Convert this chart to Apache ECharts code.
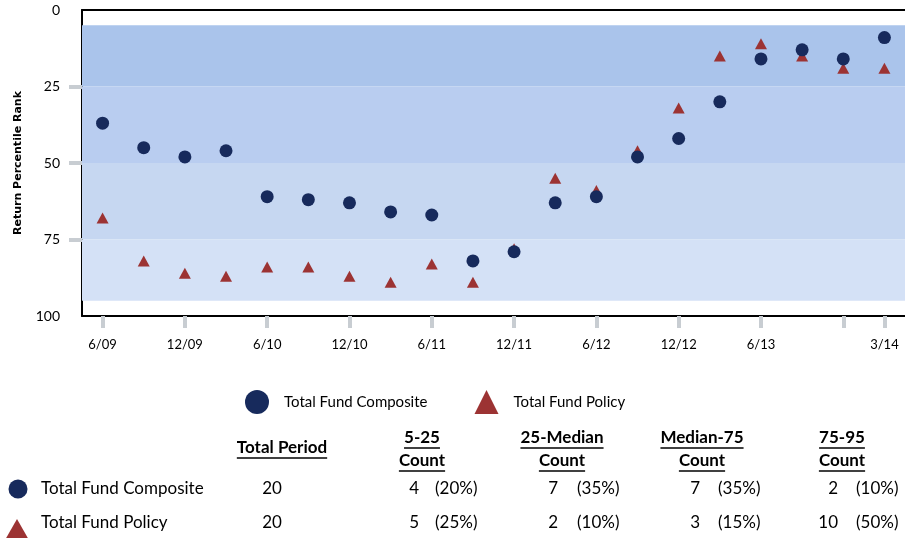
<!DOCTYPE html>
<html><head><meta charset="utf-8">
<script src="https://cdn.jsdelivr.net/npm/echarts@6/dist/echarts.min.js"></script>
<style>html,body{margin:0;padding:0;background:#fff}#c{width:905px;height:538px}</style>
</head><body><div id="c"></div>
<script>
const categories = ['6/09','9/09','12/09','3/10','6/10','9/10','12/10','3/11','6/11','9/11','12/11','3/12','6/12','9/12','12/12','3/13','6/13','9/13','12/13','3/14'];
const seriesNames = ['Total Fund Composite','Total Fund Policy'];
const compositeRank = [37,45,48,46,61,62,63,66,67,82,79,63,61,48,42,30,16,13,16,9];
const policyRank = [68,82,86,87,84,84,87,89,83,89,78,55,59,46,32,15,11,15,19,19];
const yTickValues = [25,50,75];
const bandEdges = [5,25,50,75,95];
const bandColors = ['#aac4eb','#b9cdf0','#c6d7f1','#d4e1f6'];
const tableHeaders = [['Total Period'],['5-25','Count'],['25-Median','Count'],['Median-75','Count'],['75-95','Count']];
const totalPeriod = [20,20];
const compositeCounts = [4,7,7,2];
const compositePct = ['(20%)','(35%)','(35%)','(10%)'];
const policyCounts = [5,2,3,10];
const policyPct = ['(25%)','(10%)','(15%)','(50%)'];

const FONT = 'Lato, "Open Sans", sans-serif';
const navy = '#172a5c';
const red = '#9c3333';

const chart = echarts.init(document.getElementById('c'), null, {renderer:'canvas'});

const mctx = document.createElement('canvas').getContext('2d');
function textW(t, font){ mctx.font = font; return mctx.measureText(t).width; }

const graphics = [];
const headerCenters = [282, 422, 562, 702, 842];
const hFont = 'bold 17px ' + FONT;
tableHeaders.forEach((lines, i) => {
  const ys = lines.length === 1 ? [448] : [438, 461];
  lines.forEach((t, j) => {
    graphics.push({type:'text', x: headerCenters[i], y: ys[j], style:{text:t, font:hFont, fill:'#000', align:'center', verticalAlign:'middle'}});
    const w = textW(t, hFont);
    graphics.push({type:'line', shape:{x1: headerCenters[i]-w/2, y1: ys[j]+10, x2: headerCenters[i]+w/2, y2: ys[j]+10}, style:{stroke:'#000', lineWidth:1.3}});
  });
});
const rowY = [489, 523];
const rowFont = '17px ' + FONT;
const numRight = [419, 558, 700, 838];
const pctLeft = [435, 577, 718, 856];
const rows = [[compositeCounts, compositePct],[policyCounts, policyPct]];
rows.forEach((r, i) => {
  graphics.push({type:'text', x:41, y:rowY[i], style:{text:seriesNames[i], font:rowFont, fill:'#000', align:'left', verticalAlign:'middle'}});
  graphics.push({type:'text', x:272, y:rowY[i], style:{text:String(totalPeriod[i]), font:rowFont, fill:'#000', align:'center', verticalAlign:'middle'}});
  r[0].forEach((c, k) => {
    graphics.push({type:'text', x:numRight[k], y:rowY[i], style:{text:String(c), font:rowFont, fill:'#000', align:'right', verticalAlign:'middle'}});
    graphics.push({type:'text', x:pctLeft[k], y:rowY[i], style:{text:r[1][k], font:rowFont, fill:'#000', align:'left', verticalAlign:'middle'}});
  });
});
graphics.push({type:'circle', shape:{cx:18, cy:489, r:9.5}, style:{fill:navy}});
graphics.push({type:'polygon', shape:{points:[[17,519],[29,540],[5,540]]}, style:{fill:red}});

const frameLine = {show:true, onZero:false, lineStyle:{color:'#000', width:2}};

chart.setOption({
  animation:false,
  textStyle:{fontFamily:FONT},
  grid:{left:82, right:-1, top:10, bottom:222, containLabel:false},
  legend:{
    data:[{name:seriesNames[0], icon:'circle'},{name:seriesNames[1], icon:'triangle'}],
    left:240, top:385, itemWidth:24, itemHeight:24, itemGap:47,
    textStyle:{fontSize:15, color:'#000', fontFamily:FONT, padding:[0,0,0,10]}
  },
  xAxis:[{
    type:'category', data:categories, boundaryGap:true, position:'bottom',
    axisLine:frameLine,
    axisTick:{show:true, alignWithLabel:true, length:12, interval:(i)=> i%2===0 || i===19, lineStyle:{color:'#c8cdd2', width:4}},
    axisLabel:{interval:(i)=> (i%2===0 && i!==18) || i===19, margin:22, fontSize:13, color:'#000', fontFamily:FONT},
    splitLine:{show:false}
  },{
    type:'category', data:categories, boundaryGap:true, position:'top',
    axisLine:frameLine, axisTick:{show:false}, axisLabel:{show:false}, splitLine:{show:false}
  }],
  yAxis:{
    type:'value', inverse:true, min:0, max:100, interval:25,
    name:'Return Percentile Rank', nameLocation:'middle', nameGap:58, nameRotate:90,
    nameTextStyle:{fontSize:11, fontWeight:'bold', color:'#000', fontFamily:'"DejaVu Sans", sans-serif'},
    axisLine:frameLine,
    axisTick:{show:true, length:13, customValues:yTickValues, lineStyle:{color:'#c8cdd2', width:4}},
    axisLabel:{fontSize:14, color:'#000', margin:22, padding:[4,0,0,0], fontFamily:FONT},
    splitLine:{show:false}
  },
  series:[
    {
      name:seriesNames[1], type:'scatter', data:policyRank, symbol:'triangle', symbolSize:[12,11],
      itemStyle:{color:red, opacity:1}, z:2,
      markArea:{silent:true, data: bandColors.map((col, i) => [{yAxis:bandEdges[i], itemStyle:{color:col}}, {yAxis:bandEdges[i+1]}])}
    },
    {
      name:seriesNames[0], type:'scatter', data:compositeRank, symbol:'circle', symbolSize:13,
      itemStyle:{color:navy, opacity:1}, z:3
    }
  ],
  graphic:graphics
});
</script></body></html>
